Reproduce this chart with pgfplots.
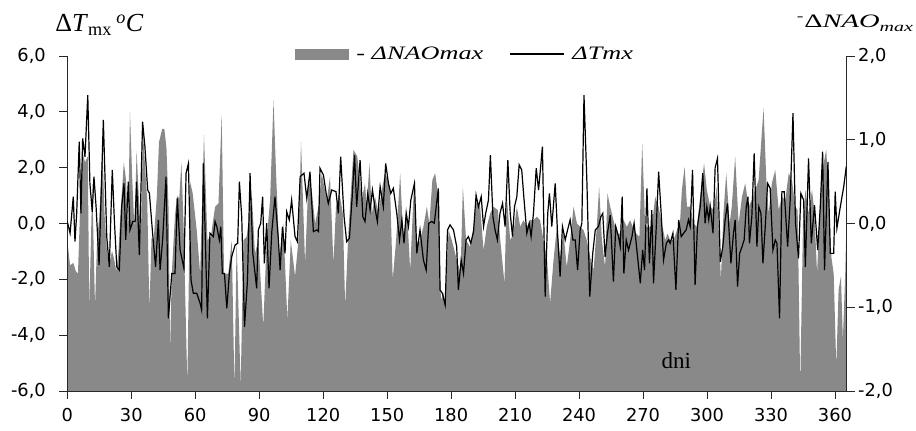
\documentclass[border=0pt]{standalone}
\usepackage{fontspec}
\setmainfont{Liberation Serif}
\newfontfamily\tickfont{DejaVu Sans}
\usepackage{graphicx}
\usepackage{pgfplots}
\pgfplotsset{compat=1.18}
\definecolor{areagray}{RGB}{137,137,137}
\definecolor{axcol}{RGB}{40,40,40}

\pgfplotstableread{
x y
0 -2
0.0 -0.20
1.3 -0.50
2.8 -0.47
4.0 -0.57
5.0 -0.60
6.0 0.17
7.0 0.87
8.3 0.73
9.6 0.80
10.3 -1.03
11.7 0.47
13.0 -1.00
14.0 -0.17
15.0 0.07
16.5 0.87
17.5 0.10
18.5 -0.30
19.5 -0.50
21.0 -0.33
22.0 -0.43
23.0 -0.57
24.0 -0.33
25.0 0.13
26.5 0.73
27.5 0.53
28.5 -0.10
29.4 1.33
30.5 0.50
31.5 -0.07
32.5 0.87
33.5 0.33
34.5 -0.17
35.5 1.10
36.5 0.67
37.5 0.27
38.5 -1.03
39.5 -0.17
40.5 -0.20
42.0 0.33
43.0 0.97
44.5 1.13
45.5 1.13
46.5 0.90
47.5 0.17
48.2 -1.51
49.0 -0.60
50.5 0.10
51.5 0.33
52.5 0.30
53.5 0.73
54.5 0.00
56.3 -1.93
57.6 0.50
58.8 0.36
60.7 -0.08
62.3 -0.60
64.1 1.06
65.7 -0.20
67.3 -0.16
69.3 0.20
70.9 0.24
72.4 1.30
73.5 -0.60
75.5 -0.60
77.1 -0.20
78.4 -1.99
79.4 -0.20
81.3 -1.95
82.6 -0.20
84.1 -0.16
86.5 0.36
88.0 -0.36
89.6 -0.20
91.9 -1.23
93.5 -0.20
95.1 0.28
96.7 1.47
97.9 0.60
99.5 -0.40
101.3 0.00
103.2 -1.15
104.8 -0.20
106.8 -0.63
108.4 -0.20
109.6 0.98
111.5 -0.48
113.1 0.52
114.6 0.40
116.2 0.00
117.8 0.20
119.3 0.60
121.7 0.28
123.2 0.56
124.8 -0.48
126.0 0.20
127.6 0.36
129.2 0.12
130.3 -0.99
131.8 -0.12
134.2 0.88
136.0 0.80
138.1 0.28
139.6 0.48
140.4 0.20
141.7 0.72
142.8 0.12
144.3 0.32
145.9 0.12
147.5 0.40
149.0 0.60
150.3 0.52
151.4 0.40
152.6 -0.67
154.2 -0.20
156.1 0.60
157.6 -0.20
159.2 0.20
160.8 -0.56
162.6 0.48
163.9 -0.28
165.4 -0.20
167.0 -0.04
168.6 0.20
169.8 0.00
171.2 0.52
172.5 0.60
174.0 0.32
175.2 -0.91
176.4 -0.83
177.2 -0.95
178.8 -0.08
180.3 -0.20
181.9 -0.36
183.4 -0.50
184.4 -0.60
185.5 0.44
187.0 -0.20
188.9 -0.28
190.5 -0.04
192.0 0.28
193.6 0.20
195.2 -0.32
196.7 -0.04
198.3 0.12
199.9 0.20
201.9 0.16
202.9 -0.16
205.0 -0.71
206.1 0.32
207.7 -0.20
209.2 -0.12
210.8 0.20
212.4 -0.04
213.9 0.04
215.5 -0.04
217.1 0.04
218.6 0.04
220.2 0.08
221.7 0.04
223.3 -0.20
224.9 -0.40
226.4 -0.95
228.0 -0.44
229.6 -0.04
231.1 -0.40
232.7 -0.12
234.2 -0.52
235.8 -0.20
237.4 0.20
239.0 0.00
240.5 -0.04
242.1 -0.08
243.6 -0.20
245.2 -0.40
246.8 -0.56
248.3 -0.04
249.4 0.44
250.7 -0.20
252.2 -0.52
253.3 0.36
254.6 0.20
256.1 0.04
257.7 -0.12
259.3 -0.12
260.8 0.04
262.4 -0.04
263.9 0.04
265.2 -0.04
266.8 -0.12
268.3 -0.16
269.6 0.96
271.0 -0.04
272.6 -0.04
274.1 -0.04
275.7 0.32
277.3 0.20
278.8 0.00
280.4 -0.20
281.5 -0.12
282.7 -0.20
284.3 -0.20
285.9 -0.08
287.4 0.04
288.2 0.40
289.5 0.68
290.6 0.20
292.1 0.20
293.7 0.00
295.2 -0.04
296.8 0.32
298.6 0.72
299.9 0.40
301.5 0.20
303.1 0.16
304.6 0.44
306.5 -0.67
307.7 0.12
309.0 0.60
310.6 0.00
311.6 0.20
313.2 0.80
314.8 0.00
316.4 0.32
317.9 0.48
319.5 0.20
321.0 0.28
322.6 0.40
324.2 0.52
326.5 1.38
327.8 0.52
328.9 0.12
330.4 0.48
332.0 0.64
333.6 0.16
335.1 0.32
336.7 0.28
338.3 0.60
339.8 0.52
341.4 0.20
342.5 0.16
343.7 -1.95
345.0 0.00
346.1 0.40
347.6 0.12
349.2 0.40
350.3 0.16
351.6 -0.60
353.1 0.28
354.4 0.68
355.9 0.88
357.0 0.40
358.3 -0.40
359.4 -0.60
360.6 -1.71
361.7 -0.79
362.8 -0.63
363.7 -1.39
364.8 -0.60
365.5 0.12
365.5 -2
}\naotable

\pgfplotstableread{
x y
0.0 0.07
1.3 -0.35
2.8 0.96
3.6 -0.65
4.4 0.36
5.6 2.93
6.4 0.36
7.2 3.05
8.3 2.39
9.6 4.60
10.6 1.44
11.7 0.42
12.5 1.68
13.5 0.60
14.9 -1.49
16.9 3.71
18.5 -0.47
19.7 -1.55
21.1 1.92
22.1 0.07
23.2 -1.55
24.4 -1.67
25.5 0.60
26.6 1.44
27.4 -0.59
28.6 1.50
29.4 -0.23
30.7 0.07
31.8 0.07
32.5 1.50
33.8 -1.13
35.3 3.65
36.4 2.75
37.7 1.20
38.5 1.08
40.0 -0.35
41.4 -1.55
42.7 0.13
43.5 -1.67
44.7 -0.59
46.3 1.68
47.4 -3.40
49.0 -1.79
50.5 -1.79
51.6 0.90
52.9 -0.95
54.7 -1.61
55.7 1.80
56.8 2.15
58.0 -2.02
59.1 -2.50
60.7 -2.50
62.3 -2.86
63.0 -3.10
63.8 2.15
65.7 -3.40
66.9 -0.35
68.5 -0.47
69.3 0.07
70.1 -0.11
71.3 -0.59
72.0 -0.11
72.7 -1.79
73.7 -1.79
74.8 -3.04
76.0 -1.79
77.1 -1.19
78.7 -0.77
79.9 -0.71
80.7 1.50
81.8 0.24
83.1 -3.70
84.5 -2.02
85.7 1.80
87.0 -1.07
88.8 -2.32
89.6 -0.23
90.7 0.01
91.6 0.96
92.4 -1.43
93.5 0.01
94.6 -2.32
95.9 -0.29
97.4 0.96
99.0 -0.59
99.8 -1.67
100.9 -0.11
102.1 -1.07
102.9 0.42
104.1 0.13
105.2 0.84
106.8 -0.47
107.9 -0.65
109.2 1.68
111.0 1.80
112.3 0.90
113.8 1.86
115.4 -0.29
117.0 -0.23
117.8 -0.29
118.5 1.98
120.1 1.74
121.4 1.08
122.4 0.72
124.0 1.20
126.0 1.14
127.1 0.36
128.2 2.39
129.8 0.24
131.0 -0.65
132.3 -0.53
133.7 1.08
134.7 2.45
135.7 0.60
137.3 2.27
138.6 0.24
139.6 0.07
140.9 1.08
142.0 0.48
143.1 1.20
144.3 0.54
145.4 0.07
146.7 1.32
148.2 0.60
149.3 2.15
150.6 1.44
151.7 1.08
152.9 1.26
154.5 0.36
155.8 -0.59
156.9 0.13
157.9 -0.71
158.9 0.36
160.0 -0.11
161.1 0.84
162.8 1.44
163.9 -1.07
165.4 -0.23
167.0 -1.31
168.3 -1.67
169.5 0.01
170.9 0.07
172.1 0.01
174.0 1.26
174.8 -2.38
175.9 -2.50
177.2 -2.92
178.3 -0.23
179.5 -0.05
181.1 -0.23
182.6 -0.83
183.4 -2.38
184.7 -1.31
185.8 -1.79
187.0 -0.59
188.1 -0.47
189.2 -0.71
190.5 -0.29
191.7 1.02
192.8 0.60
194.1 0.96
195.2 -0.11
196.2 0.36
197.5 0.84
198.4 2.45
199.6 0.24
200.6 -0.23
201.7 -0.59
202.9 0.36
204.1 0.72
205.3 -0.11
206.6 2.27
207.7 0.36
208.8 -0.47
209.7 0.60
210.8 0.96
211.9 2.10
213.1 1.92
214.2 0.84
215.5 -0.35
216.6 0.01
217.5 -0.47
218.6 0.36
219.9 1.98
221.0 1.20
221.7 1.80
222.8 2.75
224.1 -2.62
225.3 0.36
226.1 1.08
227.2 -0.11
228.8 1.44
229.9 -0.35
231.1 -1.90
232.2 -0.11
233.5 -0.59
234.6 -0.23
235.8 0.13
237.1 -0.59
238.2 -0.59
239.3 -1.67
240.5 -0.23
241.3 0.01
242.3 4.60
243.7 1.40
245.0 -2.62
246.4 -1.07
247.6 -0.23
249.1 -0.11
250.2 0.24
251.1 0.36
252.2 -1.19
253.3 -0.35
254.6 0.30
256.1 -2.08
257.2 -0.11
258.5 -0.47
259.3 -0.83
260.2 0.96
261.0 -1.79
262.1 -0.59
263.2 -0.95
264.8 -0.47
265.8 0.01
267.1 -0.95
268.7 -2.14
269.8 -0.95
270.7 -1.67
271.8 1.26
273.0 -1.43
274.1 0.48
274.9 -2.14
276.2 -0.11
277.3 1.86
278.5 0.36
279.6 -1.31
280.9 -0.71
282.0 -0.59
282.7 -0.71
284.0 -0.35
285.4 -2.38
286.7 0.13
287.9 -0.47
289.0 -0.35
290.2 -0.23
291.3 0.13
292.1 -0.11
293.2 1.92
294.4 -2.20
295.5 -0.11
296.8 0.60
298.0 1.80
299.1 0.01
299.9 0.60
300.8 0.13
301.5 0.60
302.8 -0.35
303.8 2.00
304.9 2.33
306.2 -1.37
307.4 -0.83
308.5 0.13
309.6 0.72
311.2 -1.43
312.4 -0.35
313.2 0.13
314.3 -2.26
315.3 -1.07
316.4 -0.83
317.4 -0.59
318.4 0.60
319.2 0.96
319.9 -0.71
321.0 0.24
322.1 2.51
323.4 -0.83
324.3 0.60
325.3 0.36
326.2 -1.43
327.3 -0.11
328.4 1.44
329.6 1.26
330.9 -0.95
332.0 -0.59
332.8 -0.71
334.0 -3.40
335.1 1.14
336.2 1.14
337.8 -0.83
339.0 0.84
340.3 3.95
341.5 0.01
342.9 -1.25
344.0 1.08
345.3 0.84
346.1 -1.55
347.6 2.33
348.9 -0.71
350.4 0.66
351.9 -0.95
353.1 0.60
354.2 2.57
355.1 -1.67
356.7 2.21
357.8 -1.07
359.4 -1.07
360.1 1.14
360.9 -0.17
362.5 0.60
364.1 1.32
365.3 2.04
}\tmxtable

\begin{document}
\begin{tikzpicture}
\begin{axis}[
  scale only axis, width=779.4bp, height=335bp,
  xmin=0, xmax=365.5, ymin=-2, ymax=2,
  axis x line=none, axis y line*=right,
  ytick={-2,-1,0,1,2},
  tick align=outside, major tick length=8bp,
  yticklabel style={font=\tickfont\fontsize{17.8bp}{20bp}\selectfont,
    /pgf/number format/fixed, /pgf/number format/fixed zerofill,
    /pgf/number format/precision=1, /pgf/number format/use comma,
    /pgf/number format/assume math mode=true},
  axis line style={axcol, line width=0.9bp},
  tick style={axcol, line width=0.9bp},
  axis on top,
]
\addplot[fill=areagray, draw=none] table {\naotable};
\end{axis}
\begin{axis}[
  scale only axis, width=779.4bp, height=335bp,
  xmin=0, xmax=365.5, ymin=-6, ymax=6,
  axis x line*=bottom, axis y line*=left,
  xtick={0,30,...,360}, ytick={-6,-4,...,6},
  tick align=outside, major tick length=8bp,
  yticklabel={\pgfmathprintnumber{\tick}\hspace*{10bp}},
  xticklabel style={text height=19bp, font=\tickfont\fontsize{17.8bp}{20bp}\selectfont,
    /pgf/number format/int detect, /pgf/number format/assume math mode=true},
  yticklabel style={font=\tickfont\fontsize{17.8bp}{20bp}\selectfont,
    /pgf/number format/fixed, /pgf/number format/fixed zerofill,
    /pgf/number format/precision=1, /pgf/number format/use comma,
    /pgf/number format/assume math mode=true},
  axis line style={axcol, line width=0.9bp},
  tick style={axcol, line width=0.9bp},
  legend columns=2,
  legend style={draw=none, fill=none, at={(0.292,1.006)}, anchor=west,
    font=\fontsize{19bp}{22bp}\selectfont, inner sep=0pt,
    /tikz/every odd column/.append style={column sep=6bp},
    /tikz/every even column/.append style={column sep=24bp}},
  legend cell align=left,
]
\addlegendimage{legend image code/.code={\fill[areagray] (0bp,-5bp) rectangle (53bp,5bp);}}
\addlegendentry{\scalebox{1.38}[1]{\itshape - ΔNAOmax}}
\addplot[black, line width=1.2bp,
  legend image code/.code={\draw[black, line width=1.1bp] (0bp,0bp) -- (54bp,0bp);}]
  table {\tmxtable};
\addlegendentry{\scalebox{1.38}[1]{\itshape ΔTmx}}
\node[anchor=base, font=\fontsize{23bp}{26bp}\selectfont] at (axis cs:285.6,-5.18) {dni};
\end{axis}
\node[anchor=base west, inner sep=0pt] at ([xshift=-12bp,yshift=24bp]current axis.north west)
  {\fontsize{26bp}{30bp}\selectfont Δ\textit{T}\textsubscript{mx}\,\textsuperscript{\textit{o}}\textit{C}};
\node[anchor=base west, inner sep=0pt] at ([xshift=-50bp,yshift=28bp]current axis.north east)
  {\scalebox{1.5}[1]{\fontsize{19bp}{22bp}\selectfont\textsuperscript{-}Δ\textit{NAO}\textsubscript{\textit{max}}}};
\pgfresetboundingbox
\path ([xshift=-67.3bp,yshift=-40bp]current axis.south west) rectangle ([xshift=69.3bp,yshift=56bp]current axis.north east);
\end{tikzpicture}
\end{document}
